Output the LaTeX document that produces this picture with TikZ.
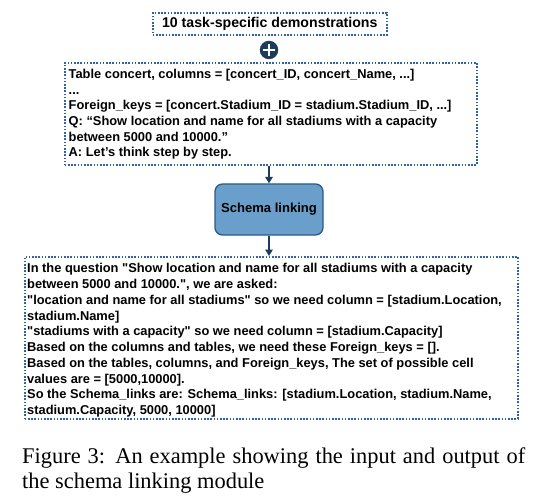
\documentclass[tikz,border=0pt]{standalone}
\usepackage{fontspec}
\setmainfont{Liberation Serif}
\newfontfamily\arialfont{Liberation Sans}
\usetikzlibrary{arrows.meta}
\definecolor{dotblue}{HTML}{2F62A0}
\definecolor{navy}{HTML}{1D3B5C}
\definecolor{schemafill}{HTML}{6B9FCB}
\definecolor{schemaedge}{HTML}{2C5A88}
\begin{document}
\begin{tikzpicture}[x=1bp,y=-1bp,
  dotbox/.style={draw=dotblue, line width=1.6bp, dash pattern=on 1.6bp off 1.6bp, inner sep=0pt, anchor=north west},
  boxtext/.style={font=\arialfont\bfseries\fontsize{12.9}{15.8}\selectfont, align=left, inner sep=0pt, anchor=base west, text=black},
  flow/.style={draw=navy, line width=2bp, -{Triangle[length=6.5bp,width=7.5bp]}}]
\useasboundingbox[fill=white] (0,0) rectangle (544,502);
% top box
\node[dotbox, minimum width=234bp, minimum height=22bp] (demo) at (152,12) {};
\node[font=\arialfont\bfseries\fontsize{14.2}{16}\selectfont, inner sep=0pt] (demotext) at (demo.center) {10 task-specific demonstrations};
% plus
\node[circle, fill=navy, minimum size=18.5bp, inner sep=0pt] (plus) at (269,50) {};
\draw[white, line width=2.6bp] ([xshift=-6bp]plus.center) -- ([xshift=6bp]plus.center);
\draw[white, line width=2.6bp] ([yshift=-6bp]plus.center) -- ([yshift=6bp]plus.center);
% input box
\node[dotbox, minimum width=412bp, minimum height=102bp] (input) at (64,62) {};
\node[boxtext] (inputtext) at (68.5,157) {Table concert, columns = [concert\_ID, concert\_Name, ...]\\
...\\
Foreign\_keys = [concert.Stadium\_ID = stadium.Stadium\_ID, ...]\\
Q: “Show location and name for all stadiums with a capacity\\
between 5000 and 10000.”\\
A: Let’s think step by step.};
% schema linking
\node[draw=schemaedge, fill=schemafill, line width=1.3bp, rounded corners=7.5bp, minimum width=108bp, minimum height=51bp, inner sep=0pt, font=\arialfont\bfseries\fontsize{13.1}{15}\selectfont] (schema) at (269,209.5) {Schema linking};
% output box
\node[dotbox, minimum width=493bp, minimum height=162bp] (output) at (24,256) {};
\node[boxtext] (outputtext) at (27,414.5) {In the question "Show location and name for all stadiums with a capacity\\
between 5000 and 10000.", we are asked:\\
"location and name for all stadiums" so we need column = [stadium.Location,\\
stadium.Name]\\
"stadiums with a capacity" so we need column = [stadium.Capacity]\\
Based on the columns and tables, we need these Foreign\_keys = [].\\
Based on the tables, columns, and Foreign\_keys, The set of possible cell\\
values are = [5000,10000].\\
So the Schema\_links are: Schema\_links: [stadium.Location, stadium.Name,\\
stadium.Capacity, 5000, 10000]};
% arrows
\draw[flow] (input.south -| schema.north) -- (schema.north);
\draw[flow] (schema.south) -- (output.north -| schema.south);
% caption
\node[font=\fontsize{22.5}{25}\selectfont, align=left, inner sep=0pt, anchor=base west] (caption) at (22,488.5) {\makebox[503bp][s]{Figure 3: An example showing the input and output of}\\
the schema linking module};
\end{tikzpicture}
\end{document}
